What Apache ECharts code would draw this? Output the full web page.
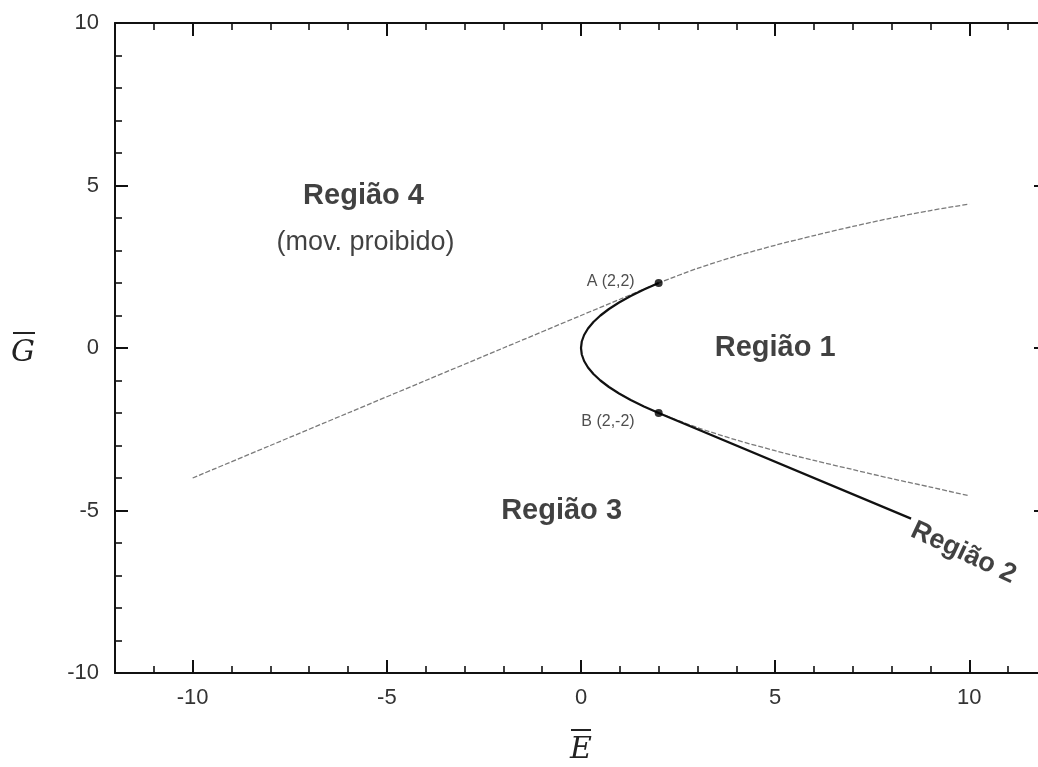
<!DOCTYPE html>
<html>
<head>
<meta charset="utf-8">
<script src="https://cdn.jsdelivr.net/npm/echarts@6/dist/echarts.min.js"></script>
<style>html,body{margin:0;padding:0;background:#fff;overflow:hidden}#c{width:1038px;height:767px}</style>
</head>
<body>
<div id="c"></div>
<script>
// ---- data ----
const xMajorTicks = [-10, -5, 0, 5, 10];
const yMajorTicks = [-10, -5, 0, 5, 10];
const xMinorTicks = [-11,-10,-9,-8,-7,-6,-5,-4,-3,-2,-1,0,1,2,3,4,5,6,7,8,9,10,11];
const yMinorTicks = [-10,-9,-8,-7,-6,-5,-4,-3,-2,-1,0,1,2,3,4,5,6,7,8,9,10];
// gray curve above (tangent line then upper branch)
const upperGray = [[-10,-4.0],[-8,-3.0],[-6,-2.0],[-4,-1.0],[-2,0.0],[0,1.0],[1,1.5],[2,2.0],[3,2.45],[4,2.83],[5,3.16],[6,3.46],[7,3.74],[8,4.0],[9,4.23],[10,4.43]];
// gray curve below (lower branch)
const lowerGray = [[2,-2.0],[3,-2.45],[4,-2.83],[5,-3.16],[6,-3.46],[7,-3.74],[8,-4.02],[9,-4.28],[10,-4.55]];
// black boundary: parabola from A to B, then straight line
const blackCurve = [[2,2.0],[1.62,1.8],[1.28,1.6],[0.98,1.4],[0.72,1.2],[0.5,1.0],[0.32,0.8],[0.18,0.6],[0.08,0.4],[0.02,0.2],[0,0],[0.02,-0.2],[0.08,-0.4],[0.18,-0.6],[0.32,-0.8],[0.5,-1.0],[0.72,-1.2],[0.98,-1.4],[1.28,-1.6],[1.62,-1.8],[2,-2.0],[8.5,-5.25]];
const pointsAB = [[2,2,'A (2,2)'],[2,-2,'B (2,-2)']];
const regionTexts = ['Região 4','(mov. proibido)','Região 1','Região 3','Região 2'];
const regionAnchors = [[-5.6,4.68],[-5.55,3.26],[5.0,0.0],[-0.5,-5.0],[9.85,-6.3]];

const FONT = "'Liberation Sans', Arial, sans-serif";
const AX = '#111';
const LBL = '#333';

function axisPair(kind, pos, majors, minors, withLabels, nameCfg) {
  const isX = kind === 'x';
  const base = {
    type: 'value',
    position: pos,
    min: isX ? -12 : -10,
    max: isX ? 12 : 10,
    interval: 1,
    splitLine: { show: false },
    axisLine: { show: true, onZero: false, lineStyle: { color: AX, width: 2 } }
  };
  const major = Object.assign({}, base, {
    axisTick: { show: true, inside: true, length: 13, customValues: majors, lineStyle: { color: AX, width: 2 } },
    axisLabel: withLabels ? {
      show: true, customValues: majors, margin: isX ? 14 : 16,
      color: LBL, fontSize: 22, fontFamily: FONT
    } : { show: false }
  }, nameCfg || {});
  const minor = Object.assign({}, base, {
    axisLine: { show: false, onZero: false },
    axisTick: { show: true, inside: true, length: 7, customValues: minors, lineStyle: { color: AX, width: 1.6 } },
    axisLabel: { show: false }
  });
  return [major, minor];
}

const xAxes = [].concat(
  axisPair('x', 'bottom', xMajorTicks, xMinorTicks, true, {
    name: '{bar| }\n{n|E}',
    nameLocation: 'middle',
    nameGap: 52,
    nameTextStyle: {
      rich: {
        bar: { width: 20, height: 2, lineHeight: 10, backgroundColor: '#222', fontSize: 2 },
        n: { fontFamily: "'DejaVu Serif', 'Liberation Serif', serif", fontStyle: 'italic', fontSize: 30, color: '#222', lineHeight: 30 }
      }
    }
  }),
  axisPair('x', 'top', xMajorTicks, xMinorTicks, false)
);
const yAxes = [].concat(
  axisPair('y', 'left', yMajorTicks, yMinorTicks, true, {
    name: '{bar| }\n{n|G}',
    nameLocation: 'middle',
    nameGap: 80,
    nameRotate: 0,
    nameTextStyle: {
      rich: {
        bar: { width: 22, height: 2, lineHeight: 10, backgroundColor: '#222', fontSize: 2 },
        n: { fontFamily: "'DejaVu Serif', 'Liberation Serif', serif", fontStyle: 'italic', fontSize: 30, color: '#222', lineHeight: 30 }
      }
    }
  }),
  axisPair('y', 'right', yMajorTicks, yMinorTicks, false)
);

const regionLabelStyles = [
  { fontSize: 29, fontWeight: 'bold' },
  { fontSize: 27, fontWeight: 'normal' },
  { fontSize: 29, fontWeight: 'bold' },
  { fontSize: 29, fontWeight: 'bold' },
  { fontSize: 27, fontWeight: 'bold', rotate: -25 }
];

const option = {
  animation: false,
  backgroundColor: '#fff',
  grid: { left: 115, width: 932, top: 23, bottom: 94, containLabel: false, outerBoundsMode: 'none' },
  xAxis: xAxes,
  yAxis: yAxes,
  series: [
    {
      type: 'line', data: upperGray, smooth: 0.3, symbol: 'none', z: 2,
      lineStyle: { color: '#7a7a7a', width: 1.3, type: [5, 2] }
    },
    {
      type: 'line', data: lowerGray, smooth: 0.3, symbol: 'none', z: 2,
      lineStyle: { color: '#7a7a7a', width: 1.3, type: [5, 2] }
    },
    {
      type: 'line', data: blackCurve, smooth: false, symbol: 'none', z: 3,
      lineStyle: { color: '#111', width: 2.2 }
    },
    {
      type: 'scatter', z: 4, symbolSize: 8,
      itemStyle: { color: '#000' },
      data: pointsAB.map((p, i) => ({
        value: [p[0], p[1]],
        label: {
          show: true, formatter: p[2], position: 'left',
          distance: 20, offset: i === 0 ? [0, -1] : [0, 9],
          color: '#222', fontSize: 16, fontFamily: FONT
        }
      }))
    },
    {
      type: 'scatter', z: 5, symbolSize: 0, silent: true,
      data: regionTexts.map((t, i) => ({
        value: regionAnchors[i],
        label: Object.assign({
          show: true, formatter: t, position: 'inside',
          color: '#111', fontFamily: FONT
        }, regionLabelStyles[i])
      }))
    }
  ]
};

const chart = echarts.init(document.getElementById('c'), null, { renderer: 'canvas' });
chart.setOption(option);
</script>
</body>
</html>
